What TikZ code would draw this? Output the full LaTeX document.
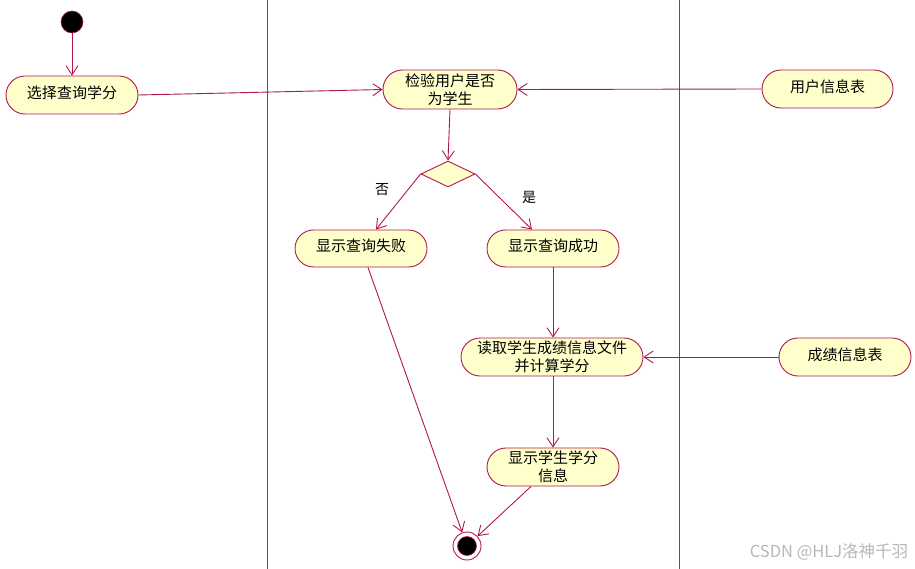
\documentclass[tikz,border=0pt]{standalone}
\usepackage{fontspec}
\setmainfont{Noto Sans CJK SC}
\usetikzlibrary{shapes.misc,shapes.geometric,arrows.meta}
\definecolor{lnred}{RGB}{176,24,80}
\definecolor{lanered}{RGB}{190,30,90}
\definecolor{actfill}{RGB}{255,255,204}
\newcommand{\upt}[1]{\raisebox{6pt}{#1}}
\tikzset{
  act/.style={rounded rectangle, draw=lnred, fill=actfill, line width=0.9pt,
    minimum height=38pt, inner sep=0pt, align=center,
    font=\fontsize{15}{17.5}\selectfont},
  flow/.style={draw=lnred, color=lnred, line width=0.9pt, -{Straight Barb[length=9pt,width=12pt]}},
  lane/.style={draw=lanered, line width=1.1pt},
  guard/.style={font=\fontsize{14}{16}\selectfont, inner sep=0pt}
}
\begin{document}
\begin{tikzpicture}[x=1pt,y=-1pt]
\useasboundingbox[fill=white] (0,0) rectangle (915,569);
% swimlanes
\coordinate (l1t) at (267.5,0); \coordinate (l1b) at (267.5,569);
\coordinate (l2t) at (679.5,0); \coordinate (l2b) at (679.5,569);
\draw[lane] (l1t) -- (l1b);
\draw[lane] (l2t) -- (l2b);
% nodes
\node[circle, fill=black, draw=lnred, line width=0.6pt, minimum size=22pt, inner sep=0pt] (start) at (72,22) {};
\node[act, minimum width=132pt] (sel) at (72,95) {\upt{选择查询学分}};
\node[act, minimum width=134pt, minimum height=39pt] (check) at (450,89.5) {检验用户是否\\为学生};
\node[act, minimum width=131pt] (user) at (827.5,89) {\upt{用户信息表}};
\node[diamond, draw=lnred, fill=actfill, line width=0.9pt, minimum width=54pt, minimum height=26pt, inner sep=0pt, aspect=2] (dec) at (448,174) {};
\node[act, minimum width=132pt, minimum height=37pt] (fail) at (361,248.5) {\upt{显示查询失败}};
\node[act, minimum width=132pt, minimum height=37pt] (ok) at (553,248.5) {\upt{显示查询成功}};
\node[act, minimum width=182pt] (read) at (552,357) {读取学生成绩信息文件\\并计算学分};
\node[act, minimum width=132pt] (score) at (845,357) {\upt{成绩信息表}};
\node[act, minimum width=132pt] (show) at (553,467) {显示学生学分\\信息};
\node[circle, draw=lnred, fill=white, line width=0.9pt, minimum size=28pt, inner sep=0pt] (final) at (467,546) {};
\node[circle, draw=lnred, fill=black, line width=0.6pt, minimum size=19pt, inner sep=0pt] (finalin) at (467,546) {};
% guards
\node[guard] (no) at (382,190) {否};
\node[guard] (yes) at (529,197) {是};
% flows
\draw[flow] (start) -- (sel);
\draw[flow] (sel.east) -- (check.west);
\draw[flow] (user.west) -- (check.east);
\draw[flow] (check.south) -- (dec.north);
\draw[flow] (dec.west) -- ([xshift=15pt]fail.north);
\draw[flow] (dec.east) -- ([xshift=-21pt]ok.north);
\draw[flow] (ok.south) -- (read.north -| ok.south);
\draw[flow] (score.west) -- (read.east);
\draw[flow] (read.south -| show.north) -- (show.north);
\draw[flow] ([xshift=7pt]fail.south) -- (final);
\draw[flow] ([xshift=-22pt]show.south) -- (final);
% watermark
\node[text=black!28, font=\fontsize{16.5}{18}\selectfont, inner sep=0pt] (wm) at (829,552) {CSDN @HLJ洛神千羽};
\end{tikzpicture}
\end{document}
